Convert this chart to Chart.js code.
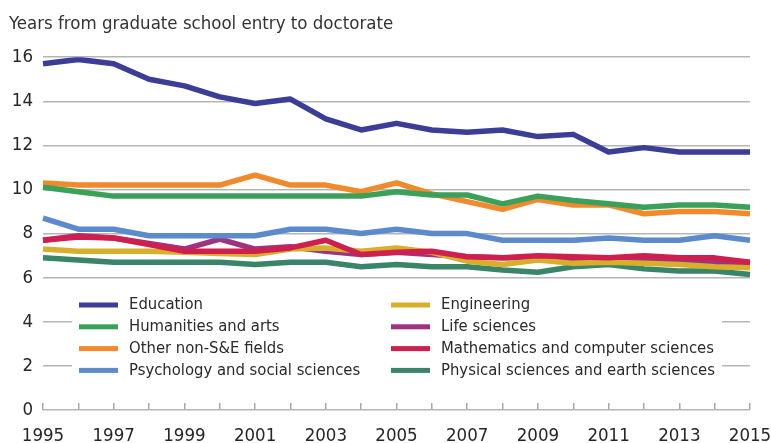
<!DOCTYPE html>
<html lang="en">

<head>
    <meta charset="UTF-8">
    <title>Years from graduate school entry to doctorate</title>
    <script src="https://cdn.jsdelivr.net/npm/chart.js"></script>
    <style>
        body { margin: 0; background: #fff; }
    </style>
</head>

<body>

    <canvas id="myChart" width="771" height="443"></canvas>

    <script>

        const years = ['1995', '1996', '1997', '1998', '1999', '2000', '2001', '2002', '2003', '2004',
            '2005', '2006', '2007', '2008', '2009', '2010', '2011', '2012', '2013', '2014', '2015'];

        const education = [15.7, 15.9, 15.7, 15.0, 14.7, 14.2, 13.9, 14.1, 13.2, 12.7, 13.0, 12.7, 12.6, 12.7, 12.4, 12.5, 11.7, 11.9, 11.7, 11.7, 11.7];
        const humanities = [10.1, 9.9, 9.7, 9.7, 9.7, 9.7, 9.7, 9.7, 9.7, 9.7, 9.9, 9.75, 9.75, 9.35, 9.7, 9.5, 9.35, 9.2, 9.3, 9.3, 9.2];
        const otherNonSE = [10.3, 10.2, 10.2, 10.2, 10.2, 10.2, 10.65, 10.2, 10.2, 9.9, 10.3, 9.8, 9.45, 9.1, 9.55, 9.3, 9.3, 8.9, 9.0, 9.0, 8.9];
        const psychology = [8.7, 8.2, 8.2, 7.9, 7.9, 7.9, 7.9, 8.2, 8.2, 8.0, 8.2, 8.0, 8.0, 7.7, 7.7, 7.7, 7.8, 7.7, 7.7, 7.9, 7.7];
        const engineering = [7.3, 7.2, 7.2, 7.2, 7.15, 7.1, 7.05, 7.3, 7.35, 7.2, 7.35, 7.15, 6.75, 6.6, 6.8, 6.65, 6.7, 6.65, 6.6, 6.5, 6.45];
        const lifeSciences = [7.7, 7.9, 7.8, 7.55, 7.3, 7.75, 7.3, 7.4, 7.2, 7.05, 7.15, 7.05, 6.95, 6.9, 6.9, 6.85, 6.8, 6.8, 6.7, 6.7, 6.65];
        const mathCS = [7.7, 7.85, 7.8, 7.5, 7.2, 7.2, 7.2, 7.35, 7.7, 7.05, 7.15, 7.2, 6.95, 6.9, 7.0, 6.95, 6.9, 7.0, 6.9, 6.9, 6.7];
        const physical = [6.9, 6.8, 6.7, 6.7, 6.7, 6.7, 6.6, 6.7, 6.7, 6.5, 6.6, 6.5, 6.5, 6.35, 6.25, 6.5, 6.6, 6.4, 6.3, 6.3, 6.15];

        const yTicks = [0, 2, 4, 6, 8, 10, 12, 14, 16];

        const FONT = "'Liberation Sans Narrow', 'DejaVu Sans Condensed', 'Arial Narrow', sans-serif";

        function line(label, data, color, order) {
            return {
                label: label,
                data: data,
                borderColor: color,
                backgroundColor: color,
                borderWidth: 5.5,
                borderJoinStyle: 'round',
                pointRadius: 0,
                tension: 0,
                fill: false,
                order: order
            };
        }

        // two-column legend box sitting on top of the lower grid lines
        const boxLegend = {
            id: 'boxLegend',
            afterDatasetsDraw(chart, args, opts) {
                const c = chart.ctx;
                c.save();
                c.fillStyle = '#fff';
                c.fillRect(opts.box[0], opts.box[1], opts.box[2], opts.box[3]);
                c.font = '16.5px ' + FONT;
                c.textBaseline = 'middle';
                chart.data.datasets.forEach((ds, i) => {
                    const col = Math.floor(i / 4), row = i % 4;
                    const x = opts.cols[col], y = opts.top + row * opts.rowGap;
                    c.fillStyle = ds.borderColor;
                    c.fillRect(x, y - 2.5, 39, 5);
                    c.fillStyle = '#2a2a2a';
                    c.fillText(ds.label, x + 50, y);
                });
                c.restore();
            }
        };

        const ctx = document.getElementById('myChart').getContext('2d');

        const chart = new Chart(ctx, {
            type: 'line',
            data: {
                labels: years,
                datasets: [
                    line('Education', education, '#3b3d96', 0),
                    line('Humanities and arts', humanities, '#3aa05a', 0),
                    line('Other non-S&E fields', otherNonSE, '#f08a2c', 0),
                    line('Psychology and social sciences', psychology, '#5b8bcc', 0),
                    line('Engineering', engineering, '#d8af2a', 1),
                    line('Life sciences', lifeSciences, '#9e337f', 1),
                    line('Mathematics and computer sciences', mathCS, '#cf1f4f', 0),
                    line('Physical sciences and earth sciences', physical, '#3a8468', 2)
                ]
            },
            plugins: [boxLegend],
            options: {
                responsive: false,
                animation: false,
                devicePixelRatio: 1,
                layout: { padding: { left: 9, right: 21, top: 0, bottom: 0 } },
                scales: {
                    x: {
                        offset: false,
                        grid: { display: true, drawOnChartArea: false, drawTicks: true, tickLength: -7, color: '#a8a8a8', lineWidth: 1.5 },
                        border: { display: false },
                        ticks: {
                            autoSkip: false,
                            maxRotation: 0,
                            padding: 22,
                            color: '#262626',
                            font: { family: FONT, size: 18.5 },
                            callback: function (v, i) { return i % 2 === 0 ? years[i] : ''; }
                        },
                        afterFit(scale) {
                            scale.height = 33;
                            scale.paddingLeft = 0;
                            scale.paddingRight = 0;
                        }
                    },
                    y: {
                        min: 0,
                        max: 16,
                        afterBuildTicks(scale) { scale.ticks = yTicks.map(v => ({ value: v })); },
                        grid: { color: '#b5b5b5', lineWidth: 1.5, drawTicks: false },
                        border: { display: false },
                        ticks: { padding: 10, color: '#262626', font: { family: FONT, size: 18.5 } },
                        afterFit(scale) { scale.width = 34; }
                    }
                },
                plugins: {
                    legend: { display: false },
                    tooltip: { enabled: false },
                    title: {
                        display: true,
                        text: 'Years from graduate school entry to doctorate',
                        align: 'start',
                        color: '#333',
                        font: { family: FONT, size: 18.5, weight: 'normal' },
                        padding: { top: 13, bottom: 22 }
                    },
                    boxLegend: {
                        box: [72, 292, 650, 90],
                        cols: [79, 391],
                        top: 305,
                        rowGap: 21.8
                    }
                }
            }
        });

    </script>

</body>

</html>
